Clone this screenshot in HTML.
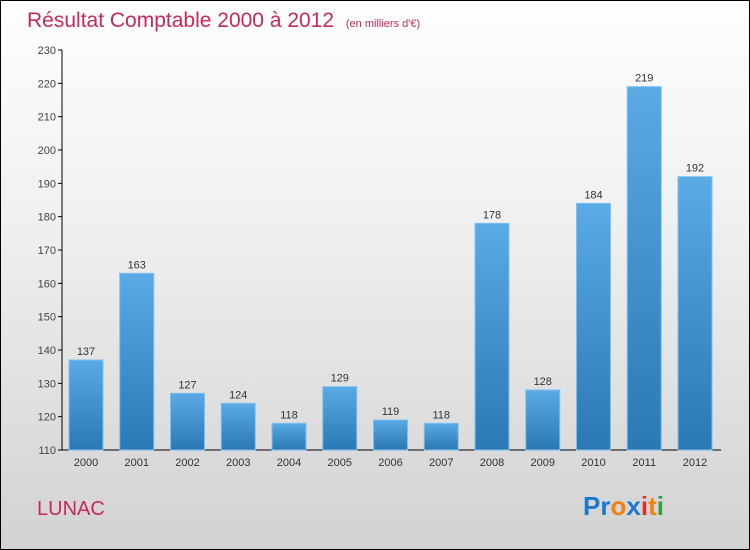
<!DOCTYPE html>
<html><head><meta charset="utf-8"><style>
body{margin:0}
#c{position:relative;width:748px;height:548px;border:1px solid #000;background:linear-gradient(#fefefe,#f0f0f0 40%,#d2d2d2);font-family:"Liberation Sans",sans-serif;overflow:hidden}
</style></head><body>
<div id="c">
<svg width="748" height="548">
<defs><linearGradient id="g" x1="0" y1="0" x2="0" y2="1"><stop offset="0" stop-color="#5aaae6"/><stop offset="1" stop-color="#2a78b4"/></linearGradient></defs>
<text x="26" y="26" font-size="21" fill="#c8285a">Résultat Comptable 2000 à 2012 <tspan font-size="11" dx="6">(en milliers d'€)</tspan></text>
<g id="axes"></g><g id="bars"></g>
<text x="36" y="514" font-size="20" fill="#c8285a">LUNAC</text>
<text x="582" y="514" font-size="26" font-weight="bold"><tspan fill="#1a7ad0">Pr</tspan><tspan fill="#f08010">o</tspan><tspan fill="#1a7ad0">x</tspan><tspan fill="#e03020">i</tspan><tspan fill="#f08010">t</tspan><tspan fill="#30a040">i</tspan></text>
</svg></div>
<script>
const categories=["2000","2001","2002","2003","2004","2005","2006","2007","2008","2009","2010","2011","2012"];
const values=[137,163,127,124,118,129,119,118,178,128,184,219,192];
const ticks=[110,120,130,140,150,160,170,180,190,200,210,220,230];
const NS="http://www.w3.org/2000/svg";
const y=v=>449-(v-110)*(400/120);
const x=i=>85+i*50.75;
function mk(t,a,p){const e=document.createElementNS(NS,t);for(const k in a)e.setAttribute(k,a[k]);p.appendChild(e);return e;}
const ax=document.getElementById('axes'),bg=document.getElementById('bars');
const yl=mk('line',{x1:61,y1:y(230),x2:61,y2:449,stroke:'#000'},ax);


const xl=mk('line',{x1:61,y1:449,x2:720,y2:449,stroke:'#000'},ax);


ticks.forEach(t=>{
 mk('line',{x1:57,x2:61,y1:y(t),y2:y(t),stroke:'#000'},ax);
 const tx=mk('text',{x:55,y:y(t)+4,'font-size':11,fill:'#444','text-anchor':'end'},ax);tx.textContent=t;
 
 
});
categories.forEach((c,i)=>{
 const v=values[i];
 const r=mk('rect',{x:x(i)-17,y:y(v),width:34,height:449-y(v),fill:'url(#g)',stroke:'#7cc0f0','stroke-width':1},bg);
 
 
 const vl=mk('text',{x:x(i),y:y(v)-5,'font-size':11,fill:'#333','text-anchor':'middle'},bg);vl.textContent=v;
 
 
 const xt=mk('text',{x:x(i),y:465,'font-size':11,fill:'#333','text-anchor':'middle'},bg);xt.textContent=c;
 
 
});
</script>
</body></html>
